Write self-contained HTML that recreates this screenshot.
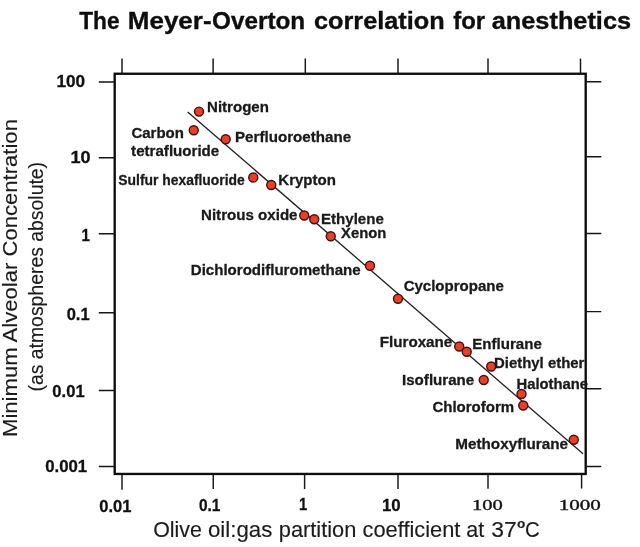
<!DOCTYPE html>
<html><head><meta charset="utf-8">
<title>The Meyer-Overton correlation for anesthetics</title>
<style>
html,body{margin:0;padding:0;background:#fff;}
svg{display:block;font-family:"Liberation Sans",Arial,sans-serif;}
.ttl{font-weight:bold;fill:#0e0e0e;stroke:#0e0e0e;stroke-width:0.35px;}
.lab{font-weight:bold;fill:#1a1a1a;stroke:#1a1a1a;stroke-width:0.3px;}
.tk{font-weight:bold;fill:#111;stroke:#111;stroke-width:0.3px;}
.sf{font-family:"Liberation Serif",serif;fill:#111;stroke:#111;stroke-width:0.35px;}
.ax{fill:#1c1c1c;stroke:#1c1c1c;stroke-width:0.15px;}
</style></head><body>
<svg width="640" height="547" viewBox="0 0 640 547">
<rect width="640" height="547" fill="#fff"/>
<g class="ttl">
<text x="79.27" y="28.7" font-size="24.6" textLength="40.34" lengthAdjust="spacingAndGlyphs">The</text>
<text x="127.81" y="28.7" font-size="24.6" textLength="83.8" lengthAdjust="spacingAndGlyphs">Meyer-</text>
<text x="212.03" y="28.7" font-size="24.6" textLength="93.16" lengthAdjust="spacingAndGlyphs">Overton</text>
<text x="313.99" y="28.7" font-size="24.6" textLength="130.6" lengthAdjust="spacingAndGlyphs">correlation</text>
<text x="453.24" y="28.7" font-size="24.6" textLength="31.87" lengthAdjust="spacingAndGlyphs">for</text>
<text x="491.74" y="28.7" font-size="24.6" textLength="139.34" lengthAdjust="spacingAndGlyphs">anesthetics</text>
</g>
<rect x="114.7" y="73.75" width="471.00000000000006" height="400.2" fill="none" stroke="#0c0c0c" stroke-width="2.35"/>
<g stroke="#161616" stroke-width="1.45" fill="none">
<path d="M122 58.5V73.75M213.1 58.5V73.75M305.3 58.5V73.75M398 58.5V73.75M488 58.5V73.75M580.5 58.5V73.75"/>
<path d="M122 473.95V489.8M213.25 473.95V489M304.6 473.95V489M398 473.95V489M488 473.95V488.8M581.6 473.95V488.5"/>
<path d="M98.8 81.9H114.7M98.8 157.8H114.7M98.8 233.8H114.7M98.8 312.8H114.7M98.8 390.4H114.7M98.8 466.5H114.7"/>
<path d="M585.7 81.75H601.3M585.7 156.7H601.3M585.7 233.4H601.3M585.7 311.6H601.3M585.7 388.75H601.3M585.7 466.4H601.3"/>
<path d="M187.7 111.9L583 453.75" stroke="#24242a" stroke-width="1.35"/>
</g>
<g fill="#e6402b" stroke="#45100a" stroke-width="1.4">
<circle cx="199" cy="111.6" r="4.5"/>
<circle cx="193.75" cy="130.3" r="4.5"/>
<circle cx="225.7" cy="139.3" r="4.5"/>
<circle cx="253.25" cy="177.5" r="4.5"/>
<circle cx="271.25" cy="185" r="4.5"/>
<circle cx="304.25" cy="215.5" r="4.5"/>
<circle cx="314.25" cy="219.25" r="4.5"/>
<circle cx="330.75" cy="236.25" r="4.5"/>
<circle cx="370" cy="265.75" r="4.5"/>
<circle cx="398" cy="298.75" r="4.5"/>
<circle cx="459.25" cy="346.5" r="4.5"/>
<circle cx="466.75" cy="351.75" r="4.5"/>
<circle cx="491.25" cy="366.5" r="4.5"/>
<circle cx="483.75" cy="380" r="4.5"/>
<circle cx="521.5" cy="394" r="4.5"/>
<circle cx="523.25" cy="405.5" r="4.5"/>
<circle cx="573.8" cy="439.7" r="4.5"/>
</g>
<g class="lab">
<text x="207.02" y="112" font-size="15.2" textLength="61.9" lengthAdjust="spacingAndGlyphs">Nitrogen</text>
<text x="131.4" y="138" font-size="15.2" textLength="52.5" lengthAdjust="spacingAndGlyphs">Carbon</text>
<text x="131.1" y="156.25" font-size="15.2" textLength="88.17" lengthAdjust="spacingAndGlyphs">tetrafluoride</text>
<text x="235.02" y="141.75" font-size="15.2" textLength="116.06" lengthAdjust="spacingAndGlyphs">Perfluoroethane</text>
<text x="118.33" y="184.5" font-size="14.7" textLength="126.44" lengthAdjust="spacingAndGlyphs">Sulfur hexafluoride</text>
<text x="278.27" y="184.5" font-size="15.2" textLength="57.68" lengthAdjust="spacingAndGlyphs">Krypton</text>
<text x="201.02" y="220" font-size="15.2" textLength="96.51" lengthAdjust="spacingAndGlyphs">Nitrous oxide</text>
<text x="321.02" y="223.75" font-size="15.2" textLength="62.8" lengthAdjust="spacingAndGlyphs">Ethylene</text>
<text x="341.1" y="238.25" font-size="15.2" textLength="45.3" lengthAdjust="spacingAndGlyphs">Xenon</text>
<text x="190.77" y="275.25" font-size="15.2" textLength="169.81" lengthAdjust="spacingAndGlyphs">Dichlorodifluromethane</text>
<text x="403.65" y="290.75" font-size="15.2" textLength="100.17" lengthAdjust="spacingAndGlyphs">Cyclopropane</text>
<text x="379.76" y="346.75" font-size="15.2" textLength="72.5" lengthAdjust="spacingAndGlyphs">Fluroxane</text>
<text x="472.27" y="349.25" font-size="15.2" textLength="69.54" lengthAdjust="spacingAndGlyphs">Enflurane</text>
<text x="494.03" y="367.5" font-size="15.2" textLength="90.4" lengthAdjust="spacingAndGlyphs">Diethyl ether</text>
<text x="402.02" y="385" font-size="15.2" textLength="72.25" lengthAdjust="spacingAndGlyphs">Isoflurane</text>
<text x="516.54" y="389.25" font-size="15.2" textLength="71.47" lengthAdjust="spacingAndGlyphs">Halothane</text>
<text x="432.4" y="412" font-size="15.2" textLength="81.73" lengthAdjust="spacingAndGlyphs">Chloroform</text>
<text x="455.26" y="448.5" font-size="15.2" textLength="112.78" lengthAdjust="spacingAndGlyphs">Methoxyflurane</text>
</g>
<g class="tk">
<text x="56.47" y="87.25" font-size="17" textLength="28.68" lengthAdjust="spacingAndGlyphs">100</text>
<text x="70.51" y="163.25" font-size="17" textLength="20.15" lengthAdjust="spacingAndGlyphs">10</text>
<text x="81.49" y="240.7" font-size="17" textLength="8.4" lengthAdjust="spacingAndGlyphs">1</text>
<text x="66.64" y="319.7" font-size="17" textLength="22.98" lengthAdjust="spacingAndGlyphs">0.1</text>
<text x="52.34" y="397" font-size="17" textLength="32.3" lengthAdjust="spacingAndGlyphs">0.01</text>
<text x="45.13" y="471.7" font-size="17" textLength="42.03" lengthAdjust="spacingAndGlyphs">0.001</text>
<text x="99.34" y="512.3" font-size="17" textLength="32.2" lengthAdjust="spacingAndGlyphs">0.01</text>
<text x="198.88" y="511.25" font-size="17" textLength="21.51" lengthAdjust="spacingAndGlyphs">0.1</text>
<text x="299.11" y="509.5" font-size="17" textLength="8.28" lengthAdjust="spacingAndGlyphs">1</text>
<text x="381.99" y="511.25" font-size="17" textLength="18.72" lengthAdjust="spacingAndGlyphs">10</text>
</g>
<g class="sf">
<text x="472.0" y="509.6" font-size="15.2" textLength="30.82" lengthAdjust="spacingAndGlyphs">100</text>
<text x="558.71" y="509.6" font-size="15.2" textLength="42.13" lengthAdjust="spacingAndGlyphs">1000</text>
</g>
<g class="ax">
<text x="153.14" y="536.6" font-size="22" textLength="48.7" lengthAdjust="spacingAndGlyphs">Olive</text>
<text x="208.01" y="536.6" font-size="22" textLength="64.28" lengthAdjust="spacingAndGlyphs">oil:gas</text>
<text x="278.78" y="536.6" font-size="22" textLength="77.59" lengthAdjust="spacingAndGlyphs">partition</text>
<text x="362.53" y="536.6" font-size="22" textLength="97.88" lengthAdjust="spacingAndGlyphs">coefficient</text>
<text x="466.24" y="536.6" font-size="22" textLength="17.95" lengthAdjust="spacingAndGlyphs">at</text>
<text x="491.18" y="536.6" font-size="22" textLength="25.52" lengthAdjust="spacingAndGlyphs">37</text>
<text x="517.1" y="527.7" font-size="13.6" font-weight="bold">o</text>
<text x="524.98" y="536.6" font-size="22" textLength="14.67" lengthAdjust="spacingAndGlyphs">C</text>
<g transform="translate(16.8,0) rotate(-90)"><text x="-436.97" y="0" font-size="20.8" textLength="317.91" lengthAdjust="spacingAndGlyphs">Minimum Alveolar Concentration</text></g>
<g transform="translate(42.7,0) rotate(-90)"><text x="-391.56" y="0" font-size="19.4" textLength="229.62" lengthAdjust="spacingAndGlyphs">(as atmospheres absolute)</text></g>
</g>
</svg>
</body></html>
